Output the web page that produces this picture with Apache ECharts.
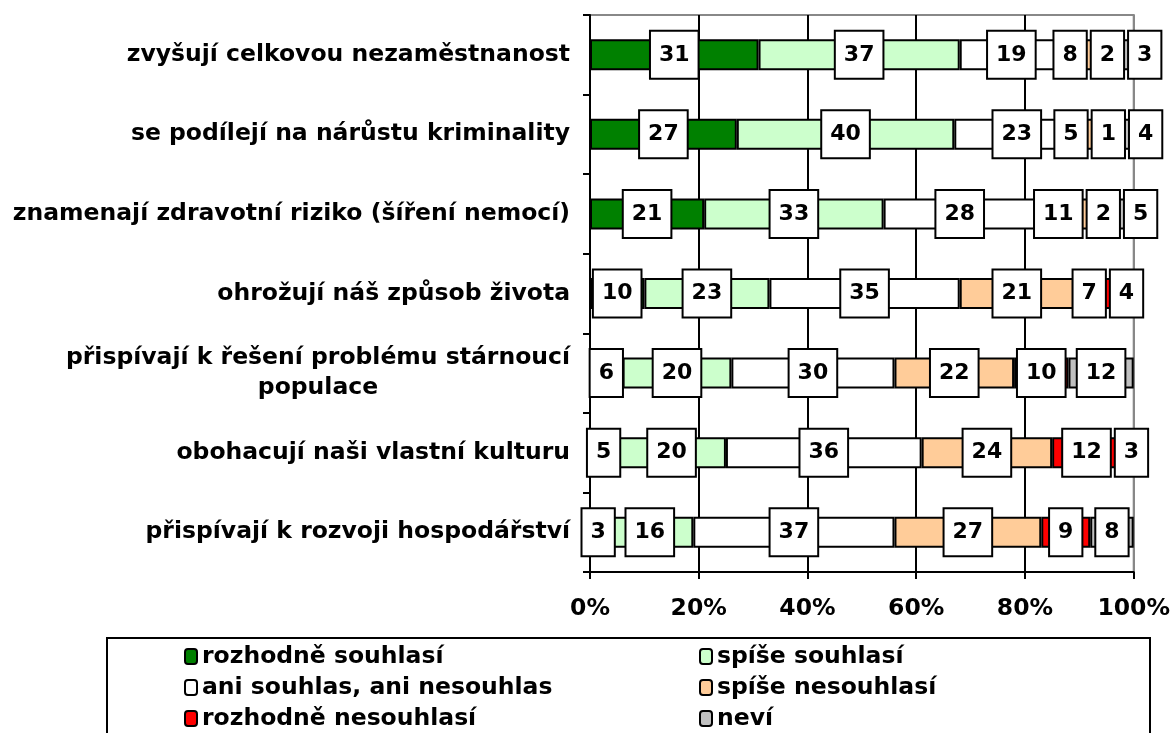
<!DOCTYPE html>
<html>
<head>
<meta charset="utf-8">
<script src="https://cdn.jsdelivr.net/npm/echarts@6/dist/echarts.min.js"></script>
<style>
  html, body { margin: 0; padding: 0; background: #fff; }
  #main { width: 1173px; height: 733px; }
</style>
</head>
<body>
<div id="main"></div>
<script>
    // kategorie (shora dolu)
    var categories = [
        'zvyšují celkovou nezaměstnanost',
        'se podílejí na nárůstu kriminality',
        'znamenají zdravotní riziko (šíření nemocí)',
        'ohrožují náš způsob života',
        'přispívají k řešení problému stárnoucí\npopulace',
        'obohacují naši vlastní kulturu',
        'přispívají k rozvoji hospodářství'
    ];
    var seriesNames = ['rozhodně souhlasí', 'spíše souhlasí', 'ani souhlas, ani nesouhlas',
        'spíše nesouhlasí', 'rozhodně nesouhlasí', 'neví'];
    var seriesColors = ['#008000', '#CCFFCC', '#FFFFFF', '#FFCC99', '#FF0000', '#C0C0C0'];

    var rozhodneSouhlasi   = [31, 27, 21, 10, 6, 5, 3];
    var spiseSouhlasi      = [37, 40, 33, 23, 20, 20, 16];
    var aniSouhlasAni      = [19, 23, 28, 35, 30, 36, 37];
    var spiseNesouhlasi    = [8, 5, 11, 21, 22, 24, 27];
    var rozhodneNesouhlasi = [2, 1, 2, 7, 10, 12, 9];
    var nevi               = [3, 4, 5, 4, 12, 3, 8];
    var values = [rozhodneSouhlasi, spiseSouhlasi, aniSouhlasAni, spiseNesouhlasi, rozhodneNesouhlasi, nevi];

    var FONT = 'DejaVu Sans';
    var LABEL_FONT_SIZE = 22;
    var LABEL_PAD_X = 8;

    var myChart = echarts.init(document.getElementById('main'));

    var series = seriesNames.map(function (name, i) {
        return {
            name: name,
            type: 'bar',
            stack: 'total',
            barWidth: 31,
            itemStyle: { color: seriesColors[i], borderColor: '#000', borderWidth: 2 },
            label: {
                show: true,
                position: 'inside',
                color: '#000',
                fontFamily: FONT,
                fontWeight: 'bold',
                fontSize: LABEL_FONT_SIZE,
                lineHeight: 26,
                backgroundColor: '#fff',
                borderColor: '#000',
                borderWidth: 2,
                padding: [10, LABEL_PAD_X]
            },
            data: values[i]
        };
    });

    var legendText = { fontFamily: FONT, fontWeight: 'bold', fontSize: 23.5, color: '#000', lineHeight: 25 };

    var option = {
        animation: false,
        backgroundColor: '#fff',
        grid: {
            left: 590, right: 39, top: 15, bottom: 161,
            show: true, borderColor: '#888', borderWidth: 2
        },
        xAxis: {
            type: 'value',
            min: 0, max: 100, interval: 20,
            axisLine: { show: true, lineStyle: { color: '#000', width: 2 } },
            axisTick: { show: true, length: 7, lineStyle: { color: '#000', width: 2 } },
            axisLabel: {
                formatter: '{value}%', margin: 25,
                fontFamily: FONT, fontWeight: 'bold', fontSize: 23.5, color: '#000'
            },
            splitLine: {
                show: true,
                lineStyle: { color: ['#000', '#000', '#000', '#000', '#000', '#888'], width: 2 }
            }
        },
        yAxis: {
            type: 'category',
            inverse: true,
            data: categories,
            axisLine: { show: true, lineStyle: { color: '#000', width: 2 } },
            axisTick: { show: true, length: 7, alignWithLabel: false, lineStyle: { color: '#000', width: 2 } },
            axisLabel: {
                margin: 20,
                formatter: function (v) {
                    return v.split('\n').map(function (l) { return '{c|' + l + '}'; }).join('\n');
                },
                rich: {
                    c: { fontFamily: FONT, fontWeight: 'bold', fontSize: 23.5, color: '#000', align: 'center', lineHeight: 30 }
                }
            }
        },
        legend: [
            {
                data: seriesNames.filter(function (n, i) { return i % 2 === 0; }),
                orient: 'vertical', left: 184, top: 644, padding: 0,
                itemWidth: 12, itemHeight: 15, itemGap: 6, itemStyle: { borderWidth: 2 },
                selectedMode: false, textStyle: legendText
            },
            {
                data: seriesNames.filter(function (n, i) { return i % 2 === 1; }),
                orient: 'vertical', left: 699, top: 644, padding: 0,
                itemWidth: 12, itemHeight: 15, itemGap: 6, itemStyle: { borderWidth: 2 },
                selectedMode: false, textStyle: legendText
            }
        ],
        graphic: [{
            type: 'rect',
            shape: { x: 107, y: 638, width: 1043, height: 120 },
            style: { fill: 'none', stroke: '#000', lineWidth: 2 },
            silent: true
        }],
        series: series
    };

    myChart.setOption(option);

    // posunuti popisku, aby se sousedni ramecky neprekryvaly
    var ctx = document.createElement('canvas').getContext('2d');
    ctx.font = 'bold ' + LABEL_FONT_SIZE + 'px "' + FONT + '"';
    var GAP = 4;
    var offsets = values.map(function () { return []; });

    categories.forEach(function (cat, r) {
        var acc = 0;
        var items = values.map(function (vals, s) {
            var v = vals[r];
            var mid = acc + v / 2;
            acc += v;
            var c = myChart.convertToPixel({ gridIndex: 0 }, [mid, r])[0];
            var w = ctx.measureText(String(v)).width + 2 * LABEL_PAD_X + 2;
            return { s: s, c: c, w: w, pos: c };
        });
        var groups = items.map(function (it) { return { items: [it], w: it.w, c: it.c }; });
        var changed = true;
        while (changed) {
            changed = false;
            for (var i = 0; i < groups.length - 1; i++) {
                var a = groups[i], b = groups[i + 1];
                if (a.c + a.w / 2 + GAP > b.c - b.w / 2) {
                    var its = a.items.concat(b.items);
                    var sum = 0;
                    its.forEach(function (it) { sum += it.c; });
                    groups.splice(i, 2, { items: its, w: a.w + GAP + b.w, c: sum / its.length });
                    changed = true;
                    break;
                }
            }
        }
        groups.forEach(function (g) {
            var x = g.c - g.w / 2;
            g.items.forEach(function (it) {
                it.pos = x + it.w / 2;
                x += it.w + GAP;
            });
        });
        items.forEach(function (it) { offsets[it.s][r] = it.pos - it.c; });
    });

    myChart.setOption({
        series: values.map(function (vals, s) {
            return {
                data: vals.map(function (v, r) {
                    return { value: v, label: { offset: [offsets[s][r], 0] } };
                })
            };
        })
    });
</script>
</body>
</html>
